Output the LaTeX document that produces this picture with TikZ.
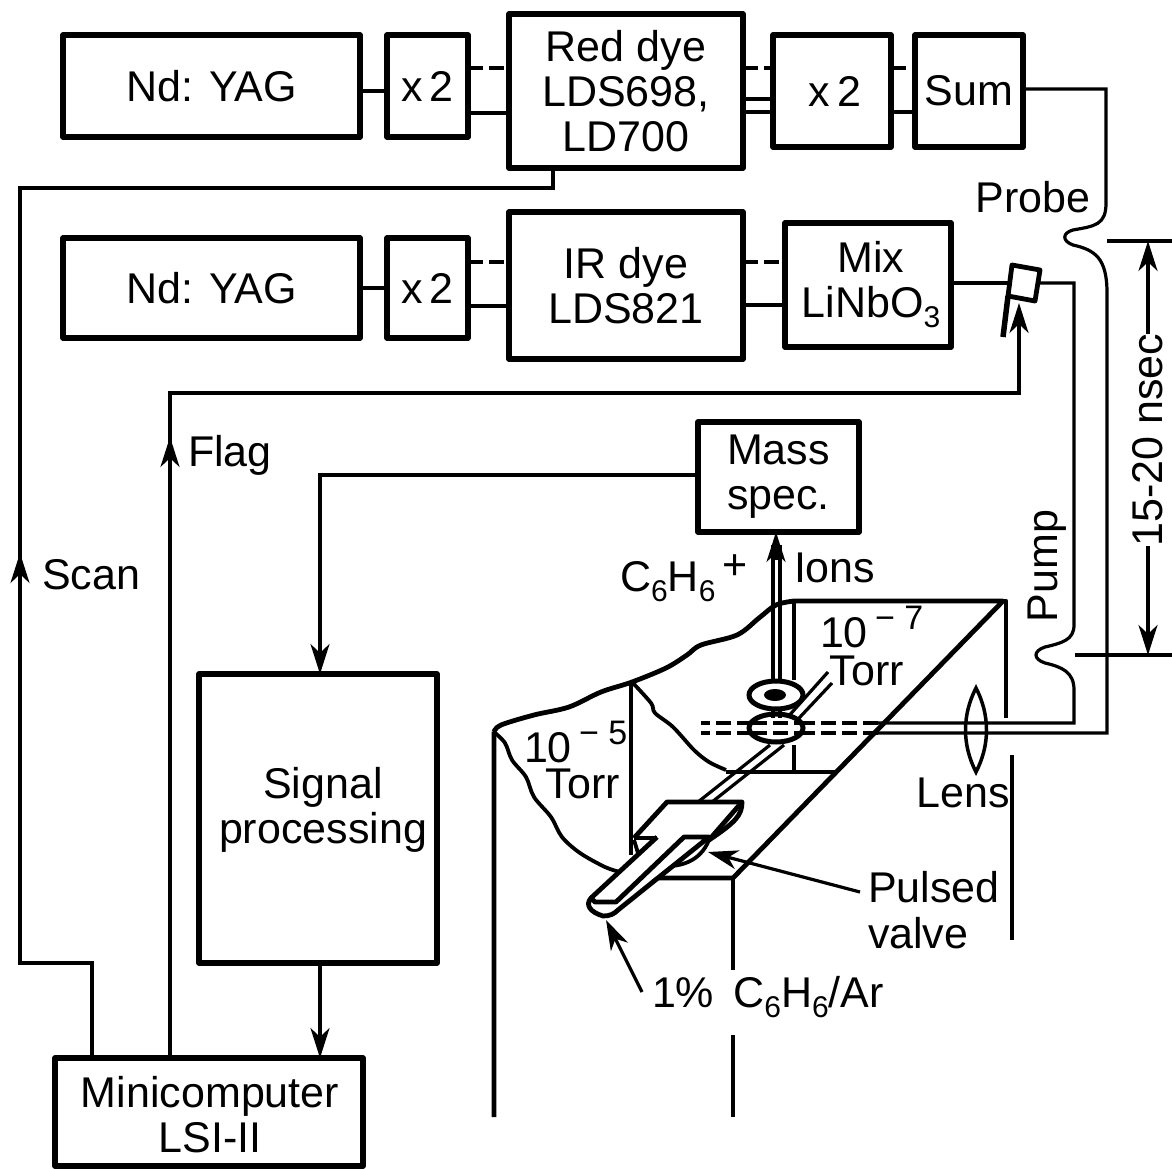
\documentclass[tikz,border=0pt]{standalone}
\usepackage{fontspec}
\setmainfont{Liberation Sans}
\usetikzlibrary{arrows.meta}
\newcommand\lab{\fontsize{43}{45}\selectfont}
\newcommand\sbs[1]{\raisebox{-10pt}{\fontsize{30}{30}\selectfont #1}}
\newcommand\sps[1]{\raisebox{18pt}{\fontsize{34}{34}\selectfont #1}}
\tikzset{
  box/.style={draw,line width=5.5pt,inner sep=0pt,outer sep=0pt,align=center,font=\lab,line join=round},
  lbl/.style={inner sep=0pt,outer sep=0pt,align=center,font=\lab},
  wire/.style={line width=3.2pt},
  heavy/.style={line width=4.8pt,line join=round},
  medium/.style={line width=3.8pt,line join=round},
  dashwire/.style={line width=3.2pt,dash pattern=on 15pt off 6pt},
  arr/.style={-{Stealth[length=30pt,width=19pt,inset=9pt]}},
}
\newcommand\bx[6]{\node[box,minimum width=#4pt-#2pt,minimum height=#5pt-#3pt] (#1) at ({(#2+#4)/2},{(#3+#5)/2}) {#6};}
\begin{document}
\begin{tikzpicture}[x=1pt,y=-1pt]
\useasboundingbox (0,0) rectangle (1172,1169);
% boxes
\bx{yaga}{63}{35}{360}{137}{Nd: YAG}
\bx{xa}{387}{35}{468}{137}{x\,2}
\bx{red}{509}{14}{743}{168}{Red dye\\LDS698,\\LD700}
\bx{xb}{773}{35}{891}{147}{\hspace*{6pt}x\,2}
\bx{sum}{915}{35}{1023}{147}{Sum}
\bx{yagb}{63}{238}{360}{338}{Nd: YAG}
\bx{xc}{387}{238}{468}{338}{x\,2}
\bx{ir}{509}{212}{743}{359}{IR dye\\LDS821}
\bx{mix}{785}{223}{951}{347}{\hspace*{6pt}Mix\\\hspace*{6pt}LiNbO\sbs{3}}
\bx{mass}{698}{422}{859}{532}{Mass\\spec.}
\bx{sig}{199}{674}{437}{963}{}
\node[lbl] (sigtext) at (323,810) {Signal\\processing};
\bx{mini}{55}{1058}{363}{1166}{}
\node[lbl] (minitext) at (210,1115) {Minicomputer\\LSI-II};
% top row connectors
\draw[wire] (yaga.east |- 0,91) -- (xa.west |- 0,91);
\draw[dashwire] (xa.east |- 0,68) -- (red.west |- 0,68);
\draw[wire] (xa.east |- 0,113) -- (red.west |- 0,113);
\draw[dashwire] (red.east |- 0,68) -- (xb.west |- 0,68);
\draw[wire] (red.east |- 0,99) -- (xb.west |- 0,99);
\draw[wire] (red.east |- 0,112) -- (xb.west |- 0,112);
\draw[dashwire] (xb.east |- 0,68) -- (sum.west |- 0,68);
\draw[wire] (xb.east |- 0,112) -- (sum.west |- 0,112);
% second row connectors
\draw[wire] (yagb.east |- 0,288) -- (xc.west |- 0,288);
\draw[dashwire] (xc.east |- 0,262) -- (ir.west |- 0,262);
\draw[wire] (xc.east |- 0,306) -- (ir.west |- 0,306);
\draw[dashwire] (ir.east |- 0,262) -- (mix.west |- 0,262);
\draw[wire] (ir.east |- 0,305) -- (mix.west |- 0,305);
% mirror
\coordinate (mirtl) at (1012,265);
\coordinate (mirtr) at (1040,270);
\coordinate (mirbr) at (1035,301);
\coordinate (mirbl) at (1008,296);
\coordinate (mirfoot) at (1003,337);
\draw[heavy] (mirtl) -- (mirtr) -- (mirbr) -- (mirbl) -- cycle;
\draw[line width=5.5pt] (mirbl) -- (mirfoot);
% probe path
\coordinate (beamlow) at (878,733);
\draw[wire] (sum.east |- 0,89) -- (1106,89) -- (1106,203)
  .. controls (1106,225) and (1095,226) .. (1073,230)
  .. controls (1062,233) and (1062,241) .. (1073,245)
  .. controls (1095,250) and (1107,258) .. (1107,293)
  -- (1107,733) -- (beamlow);
% pump path
\coordinate (beamup) at (878,723);
\draw[wire] (mix.east |- 0,283) -- (1009,283);
\draw[wire] (1039,283) -- (1074,283) -- (1074,625)
  .. controls (1074,640) and (1062,643) .. (1045,647)
  .. controls (1033,651) and (1033,659) .. (1045,663)
  .. controls (1062,667) and (1074,672) .. (1074,690)
  -- (1074,723) -- (beamup);
% dashed beams
\coordinate (beamend) at (701,723);
\coordinate (beamendb) at (701,733);
\draw[dashwire] (beamup) -- (beamend);
\draw[dashwire] (beamlow) -- (beamendb);
% time scale
\coordinate (tsa) at (1107,241);
\coordinate (tsb) at (1172,241);
\coordinate (tsc) at (1075,655);
\coordinate (tsd) at (1172,655);
\draw[wire] (tsa) -- (tsb);
\draw[wire] (tsc) -- (tsd);
\node[lbl,rotate=90] (tslab) at (1148,440) {15-20 nsec};
\draw[wire,arr] (tslab.east) -- (1148,241);
\draw[wire,arr] (tslab.west) -- (1148,655);
% scan
\draw[wire] (mini.north -| 92,0) -- (92,963) -- (20,963) -- (20,188) -- (553,188) -- (red.south -| 553,0);
\draw[wire,arr] (20,700) -- (20,553);
% flag
\draw[wire,arr] (mini.north -| 170,0) -- (170,393) -- (1019,393) -- (1019,303);
\draw[wire,arr] (170,600) -- (170,437);
% signal lines
\draw[wire,arr] (mass.west |- 0,475) -- (320,475) -- (sig.north -| 320,0);
\draw[wire,arr] (sig.south -| 320,0) -- (mini.north -| 320,0);
% vacuum chamber
\draw[heavy] (494,1117) -- (494,732) plot[smooth,tension=.55] coordinates {(494,732)(501,725)(534,715)(569,707)(601,692)(632,682)(666,668)(687,655)(701,645)(737,635)(759,618)(776,605)(794,601)} -- (1003,601);
\draw[heavy] (1003,601) -- (1006,601) -- (1006,718);
\draw[heavy] (1003,601) -- (733,878) -- (648,878);
\draw[medium] plot[smooth,tension=.55] coordinates {(494,732)(505,743)(512,760)(526,777)(534,797)(551,817)(562,837)(580,853)(605,867)(620,872)};
\draw[medium] plot[smooth,tension=.55] coordinates {(632,682)(651,703)(655,713)(673,727)(694,750)(709,762)(726,770)};
\draw[medium] (631,682) -- (631,855);
\draw[medium] (726,772) -- (835,772);
\draw[medium] (794,601) -- (794,680);
\draw[medium] (794,745) -- (794,772);
\draw[heavy] (733,878) -- (733,970);
\draw[heavy] (733,1035) -- (733,1117);
\draw[heavy] (1012,755) -- (1012,940);
% ion lines
\coordinate (ionl) at (773,690);
\coordinate (ionr) at (780,690);
\draw[wire] (ionl) -- (773,545);
\draw[wire] (ionr) -- (780,545);
\path[arr,draw,line width=3.2pt] (776,560) -- (mass.south -| 776,0);
% molecular beam
\draw[wire] (828,672) -- (778,728);
\draw[wire] (832,683) -- (785,733);
\draw[wire] (770,745) -- (698,802);
\draw[wire] (784,745) -- (712,802);
\fill[white] (776,695) ellipse [x radius=27,y radius=14];
\fill[white] (776,728) ellipse [x radius=27,y radius=14];
% rings
\draw[line width=5pt] (776,695) ellipse [x radius=27,y radius=14];
\fill (775,695) ellipse [x radius=11,y radius=6];
\draw[line width=5pt] (776,728) ellipse [x radius=27,y radius=14];
\draw[wire] (773,709) -- (773,718);
\draw[wire] (780,709) -- (780,718);
\draw[dashwire] (752,723) -- (800,723);
\draw[dashwire] (752,733) -- (800,733);
% lens
\draw[line width=3.5pt] (976,688) .. controls (962,715) and (962,745) .. (976,772) .. controls (990,745) and (990,715) .. (976,688) -- cycle;
% pulsed valve
\fill[white] (634,838) -- (667,802) -- (742,802) .. controls (742,815) and (736,822) .. (712,840) .. controls (700,862) and (680,868) .. (656,866) -- (634,850) -- cycle;
\draw[heavy] (634,838) -- (667,802) -- (742,802) .. controls (742,815) and (736,822) .. (709,840);
\draw[medium] (709,840) .. controls (700,862) and (680,868) .. (656,866);
\draw[medium] (634,840) -- (638,853);
\draw[medium] (634,838) -- (657,838);
\fill[white] (657,837) -- (591,898) -- (603,916) -- (709,837) -- cycle;
\draw[heavy] (657,837) -- (591,898) .. controls (585,905) and (590,912) .. (603,916) .. controls (610,916) and (614,914) .. (618,910) -- (709,837) -- (684,837) -- (616,902) -- (595,902) -- (591,898);
\draw[heavy] (742,802) -- (709,840);
% labels
\node[lbl,anchor=west] (scan) at (42,575) {Scan};
\node[lbl,anchor=west] (flag) at (188,455) {Flag};
\node[lbl] (probe) at (1033,197) {Probe};
\node[lbl,rotate=90] (pump) at (1047,566) {Pump};
\node[lbl,anchor=west] (ions) at (794,568) {Ions};
\node[lbl,anchor=west] (chsix) at (620,578) {C\sbs{6}H\sbs{6}\,\raisebox{12pt}{+}};
\node[lbl,anchor=base west] (ptop) at (820,647) {10\,\sps{− 7}};
\node[lbl] (ttop) at (867,671) {Torr};
\node[lbl,anchor=base west] (plow) at (524,762) {10\,\sps{− 5}};
\node[lbl] (tlow) at (583,784) {Torr};
\node[lbl] (lens) at (963,793) {Lens};
\node[lbl,anchor=west] (pulsed) at (868,887) {Pulsed};
\node[lbl,anchor=west] (valve) at (868,933) {valve};
\node[lbl,anchor=west] (gas) at (652,997) {1\%\, C\sbs{6}H\sbs{6}/Ar};
\draw[wire,arr] (pulsed.west) ++(-8,5) -- (708,852);
\draw[wire,arr] (gas.west) ++(-10,-5) -- (606,920);
\end{tikzpicture}
\end{document}
